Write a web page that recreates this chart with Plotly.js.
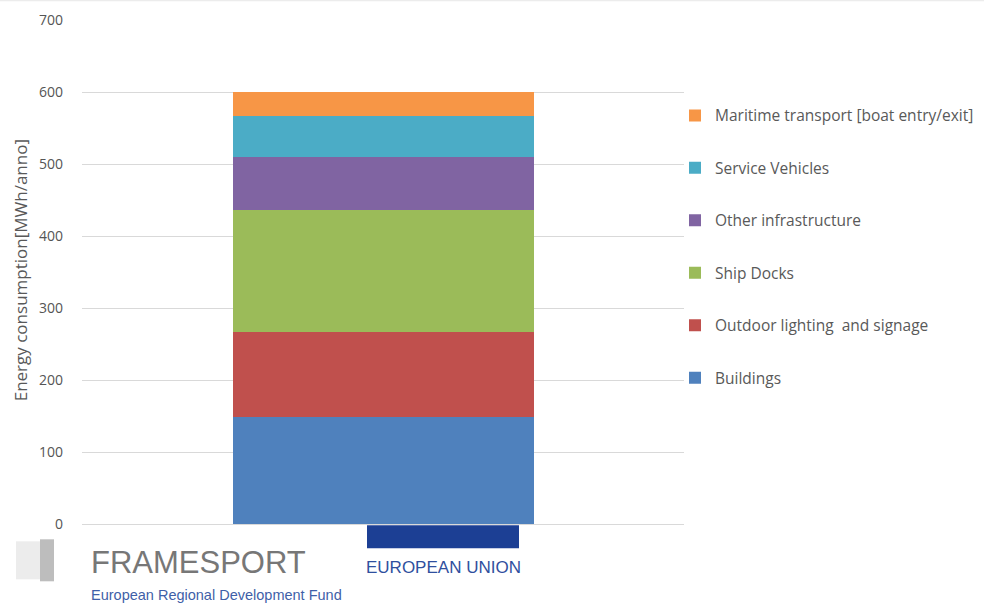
<!DOCTYPE html>
<html>
<head>
<meta charset="utf-8">
<script src="https://cdn.plot.ly/plotly-3.0.1.min.js"></script>
<style>html,body{margin:0;padding:0;background:#fff;}#chart{width:984px;height:604px;}</style>
</head>
<body>
<div id="chart"></div>
<script>
const categories = ["Port"];
const seriesNames = ["Buildings", "Outdoor lighting  and signage", "Ship Docks", "Other infrastructure", "Service Vehicles", "Maritime transport [boat entry/exit]"];
const buildings = [148];
const outdoorLighting = [119];
const shipDocks = [169];
const otherInfrastructure = [74];
const serviceVehicles = [57];
const maritimeTransport = [33];
const seriesColors = ["#4f81bd", "#c0504d", "#9bbb59", "#8064a2", "#4bacc6", "#f79646"];
const yTicks = [0, 100, 200, 300, 400, 500, 600, 700];

const seriesValues = [buildings, outdoorLighting, shipDocks, otherInfrastructure, serviceVehicles, maritimeTransport];
const traces = seriesValues.map((vals, i) => ({
  type: 'bar',
  x: categories,
  y: vals,
  name: seriesNames[i],
  legendgroup: 'g' + i,
  legendrank: seriesValues.length - i,
  marker: {color: seriesColors[i], line: {width: 0}},
  width: 0.5
}));

const font = "'Open Sans', 'Liberation Sans', Arial, sans-serif";
const logoFont = "'Liberation Sans', Arial, sans-serif";
const py = v => (524.7 - v) / 504;
const px = v => (v - 82) / 602;
const layout = {
  width: 984, height: 604,
  margin: {l: 82, r: 300, t: 20, b: 80, autoexpand: false},
  barmode: 'stack',
  paper_bgcolor: '#fff', plot_bgcolor: '#fff',
  font: {family: font, color: '#595959', size: 14},
  xaxis: {showticklabels: false, showgrid: false, zeroline: false, showline: false, ticks: '', range: [-0.5, 0.5], fixedrange: true, automargin: false},
  yaxis: {range: [0, 700], tickvals: yTicks, ticktext: yTicks.map(String), showgrid: true, gridcolor: '#d9d9d9', gridwidth: 1, automargin: false,
          zeroline: true, zerolinecolor: '#d9d9d9', zerolinewidth: 1, showline: false, ticks: '', ticklabelstandoff: 18,
          tickfont: {family: font, size: 14, color: '#555555'}},
  showlegend: true,
  legend: {x: px(675), xanchor: 'left', y: py(99.5), yanchor: 'top', traceorder: 'grouped', tracegroupgap: 29.3,
           font: {family: font, size: 15.5, color: '#595959'}, itemwidth: 30, bgcolor: 'rgba(0,0,0,0)'},
  annotations: [
    {text: 'Energy consumption[MWh/anno]', textangle: -90, xref: 'paper', yref: 'paper', x: px(20), y: py(271), xanchor: 'center', yanchor: 'middle', showarrow: false, font: {family: font, size: 17, color: '#595959'}},
    {text: 'FRAMESPORT', xref: 'paper', yref: 'paper', x: px(89), y: py(563), xanchor: 'left', yanchor: 'middle', showarrow: false, font: {family: logoFont, size: 31, color: '#777777'}},
    {text: 'European Regional Development Fund', xref: 'paper', yref: 'paper', x: px(89), y: py(596), xanchor: 'left', yanchor: 'middle', showarrow: false, font: {family: logoFont, size: 14.5, color: '#3f5fa8'}},
    {text: 'EUROPEAN UNION', xref: 'paper', yref: 'paper', x: px(364), y: py(568), xanchor: 'left', yanchor: 'middle', showarrow: false, font: {family: logoFont, size: 17, color: '#2f4f9e'}}
  ],
  shapes: [
    {type: 'rect', xref: 'paper', yref: 'paper', x0: px(367), x1: px(519), y0: py(549), y1: py(526), fillcolor: '#1c3f94', line: {width: 0}, layer: 'below'},
    {type: 'rect', xref: 'paper', yref: 'paper', x0: px(16), x1: px(40), y0: py(580), y1: py(542), fillcolor: '#ececec', line: {width: 0}},
    {type: 'rect', xref: 'paper', yref: 'paper', x0: px(40), x1: px(54), y0: py(582), y1: py(540), fillcolor: '#bdbdbd', line: {width: 0}},
    {type: 'line', xref: 'paper', yref: 'paper', x0: px(0), x1: px(984), y0: py(1), y1: py(1), line: {color: '#ececec', width: 2}}
  ]
};

Plotly.newPlot('chart', traces, layout, {displayModeBar: false, staticPlot: true});
</script>
</body>
</html>
